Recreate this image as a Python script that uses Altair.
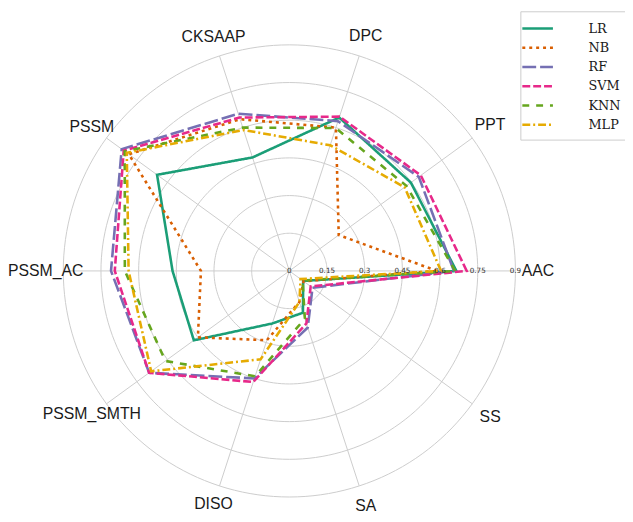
import altair as alt
import pandas as pd

CATEGORIES = ["AAC", "PPT", "DPC", "CKSAAP", "PSSM", "PSSM_AC", "PSSM_SMTH", "DISO", "SA", "SS"]
MODELS = ["LR", "NB", "RF", "SVM", "KNN", "MLP"]
LR = [0.665, 0.598, 0.642, 0.475, 0.651, 0.465, 0.47, 0.22, 0.175, 0.068]
NB = [0.588, 0.243, 0.600, 0.635, 0.790, 0.352, 0.45, 0.29, 0.13, 0.07]
RF = [0.655, 0.637, 0.627, 0.658, 0.825, 0.710, 0.69, 0.45, 0.237, 0.114]
SVM = [0.706, 0.647, 0.646, 0.642, 0.815, 0.695, 0.69, 0.465, 0.22, 0.105]
KNN = [0.660, 0.576, 0.598, 0.600, 0.810, 0.655, 0.61, 0.441, 0.20, 0.065]
MLP = [0.604, 0.567, 0.526, 0.590, 0.800, 0.640, 0.68, 0.37, 0.13, 0.055]
TICKS = [0, 0.15, 0.3, 0.45, 0.6, 0.75, 0.9]
TICK_LABELS = ["0", "0.15", "0.3", "0.45", "0.6", "0.75", "0.9"]
RMAX = 0.9

COLORS = ["#1b9e77", "#d95f02", "#7570b3", "#e7298a", "#66a61e", "#e6ab02"]
DASHES = [[1, 0], [3, 4], [14, 4], [8, 3], [7, 7], [8, 3, 2, 3]]

series = dict(zip(MODELS, [LR, NB, RF, SVM, KNN, MLP]))
n = len(CATEGORIES)
rows = []
for m in MODELS:
    for i, c in enumerate(CATEGORIES):
        rows.append({"model": m, "cat": c, "idx": i, "value": series[m][i]})
df = pd.DataFrame(rows)

cat_df = pd.DataFrame({"cat": CATEGORIES, "idx": list(range(n))})
ring_rows = [{"ring": r, "deg": d} for r in TICKS[1:] for d in range(0, 361, 2)]
ring_df = pd.DataFrame(ring_rows)
tick_df = pd.DataFrame({"tick": TICKS, "label": TICK_LABELS})

W = 458
xs = alt.Scale(domain=[-RMAX, RMAX], nice=False, zero=False)
ys = alt.Scale(domain=[-RMAX, RMAX], nice=False, zero=False)

GRID = "#cccccc"

rings = alt.Chart(ring_df).transform_calculate(
    x="datum.ring*cos(datum.deg*PI/180)",
    y="datum.ring*sin(datum.deg*PI/180)",
).mark_line(color=GRID, strokeWidth=1).encode(
    x=alt.X("x:Q", scale=xs, axis=None),
    y=alt.Y("y:Q", scale=ys, axis=None),
    detail="ring:N",
    order="deg:Q",
)

spokes = alt.Chart(cat_df).transform_calculate(
    x0="0", y0="0",
    x1=f"{RMAX}*cos(datum.idx*2*PI/{n})",
    y1=f"{RMAX}*sin(datum.idx*2*PI/{n})",
).mark_rule(color=GRID, strokeWidth=1).encode(
    x=alt.X("x0:Q", scale=xs, axis=None),
    y=alt.Y("y0:Q", scale=ys, axis=None),
    x2="x1:Q",
    y2="y1:Q",
)

tick_text = alt.Chart(tick_df).transform_calculate(
    y0="0"
).mark_text(
    fontSize=7.3, font="DejaVu Sans", color="#333333", align="center", baseline="middle"
).encode(
    x=alt.X("tick:Q", scale=xs, axis=None),
    y=alt.Y("y0:Q", scale=ys, axis=None),
    text="label:N",
)

cat_text = alt.Chart(cat_df).transform_calculate(
    ang=f"datum.idx*2*PI/{n}",
).transform_calculate(
    rl="0.98 + 0.01*cos(datum.ang)",
).transform_calculate(
    x="datum.rl*cos(datum.ang)",
    y="datum.rl*sin(datum.ang)",
).mark_text(
    fontSize=16, font="Liberation Sans", color="#1a1a1a", align="center", baseline="middle"
).encode(
    x=alt.X("x:Q", scale=xs, axis=None),
    y=alt.Y("y:Q", scale=ys, axis=None),
    text="cat:N",
)

lines = alt.Chart(df).transform_calculate(
    x=f"datum.value*cos(datum.idx*2*PI/{n})",
    y=f"datum.value*sin(datum.idx*2*PI/{n})",
).mark_line(interpolate="linear-closed", strokeWidth=2.6).encode(
    x=alt.X("x:Q", scale=xs, axis=None),
    y=alt.Y("y:Q", scale=ys, axis=None),
    color=alt.Color("model:N", scale=alt.Scale(domain=MODELS, range=COLORS),
                    legend=alt.Legend(title=None)),
    strokeDash=alt.StrokeDash("model:N", scale=alt.Scale(domain=MODELS, range=DASHES),
                              legend=alt.Legend(title=None)),
    order="idx:Q",
)

chart = alt.layer(rings, spokes, lines, tick_text, cat_text).properties(
    width=W, height=W,
    autosize=alt.AutoSizeParams(type="none"),
    padding={"left": 56, "top": 34, "right": 111, "bottom": 22},
).configure_view(stroke=None).configure_legend(
    orient="none", legendX=463, legendY=-34,
    strokeColor="#cccccc", fillColor="white", padding=8,
    symbolType="M-2,0L2,0", symbolSize=240, symbolStrokeWidth=2.6,
    labelFont="DejaVu Serif", labelFontSize=13, labelColor="#1a1a1a",
    rowPadding=2.5, labelOffset=42,
)

chart.save("out.html", embed_options={"renderer": "svg", "actions": False})
